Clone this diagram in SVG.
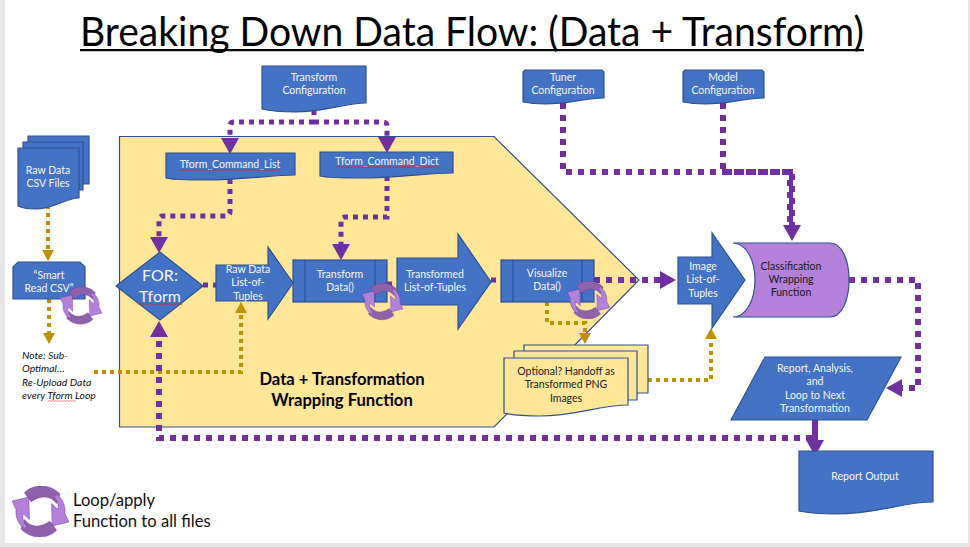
<svg xmlns="http://www.w3.org/2000/svg" xmlns:xlink="http://www.w3.org/1999/xlink" width="970" height="547" viewBox="0 0 970 547">
<style>
text{font-family:Lato,"Open Sans","Liberation Sans",sans-serif}
.b{fill:#4472c4;stroke:#2f528f;stroke-width:1.2}
.y{fill:#ffe699;stroke:#2f528f;stroke-width:1.2}
.p{fill:#b381d9;stroke:#2f528f;stroke-width:1.2}
.l{fill:none;stroke:#2f528f;stroke-width:1.2}
.t{font-size:10.5px;fill:#f4f6fc;text-anchor:middle}
.d{font-size:10.5px;fill:#1a1a22;text-anchor:middle}
.n{font-size:10.4px;font-style:italic;fill:#111}
.cp{fill:none;stroke:#7030a0;stroke-width:5;stroke-dasharray:5 5}
.cpb{fill:none;stroke:#7030a0;stroke-width:6;stroke-dasharray:6 6}
.cg{fill:none;stroke:#bf9000;stroke-width:4;stroke-dasharray:4 4}
.ap{marker-end:url(#ah)}
.ag{marker-end:url(#ag)}
</style>
<defs>
<marker id="ah" markerUnits="userSpaceOnUse" markerWidth="18" markerHeight="18" refX="0" refY="9" orient="auto"><path d="M0 0L16 9L0 18Z" fill="#7030a0"/></marker>
<marker id="ag" markerUnits="userSpaceOnUse" markerWidth="12" markerHeight="12" refX="0" refY="6" orient="auto"><path d="M0 0L11 6L0 12Z" fill="#bf9000"/></marker>
<pattern id="sq" patternUnits="userSpaceOnUse" width="3" height="2"><path d="M0 1.5L1.5 .5L3 1.5" fill="none" stroke="#d9232e" stroke-width=".9"/></pattern>
<pattern id="sqs" patternUnits="userSpaceOnUse" width="3" height="2"><path d="M0 1.5L1.5 .5L3 1.5" fill="none" stroke="#e8707a" stroke-width=".9"/></pattern>
<symbol id="loop" viewBox="35 48 170 152">
<g id="half" stroke="#7030a0" stroke-width="1.5">
<path d="M72 68C100 40 150 42 178 72L168 100C150 75 120 75 92 95Z" fill="#8e62ab"/>
<path d="M168 72C185 85 195 105 193 130L205 155L155 167L153 100L172 118C174 105 172 90 160 80Z" fill="#b381d9"/>
</g>
<use xlink:href="#half" href="#half" transform="rotate(180 120 124)"/>
</symbol>
</defs>
<rect width="970" height="547" fill="#fff"/>
<path d="M0 0H5V543H968V0H970V547H0Z" fill="#e6e6e6"/>

<text x="472" y="46" font-size="40" text-anchor="middle" textLength="784" lengthAdjust="spacingAndGlyphs" fill="#000">Breaking Down Data Flow: (Data + Transform)</text>
<rect x="80" y="49" width="784" height="2.2" fill="#000"/>

<g id="wrapper">
<path class="y" d="M119.5 136.5H494L639 280L494 427H119.5Z"/>
<text x="342" y="385" font-size="16.6" font-weight="700" text-anchor="middle" fill="#000">Data + Transformation</text>
<text x="342" y="406" font-size="16.6" font-weight="700" text-anchor="middle" fill="#000">Wrapping Function</text>
</g>

<g id="connectors">
<path class="cp" d="M314 110V122"/>
<path class="cp ap" d="M314 122H234Q230 122 230 126V138"/>
<path class="cp ap" d="M314 122H383Q387 122 387 126V137"/>
<path class="cp ap" d="M230 179V212Q230 216 226 216H163Q159 216 159 220V237"/>
<path class="cp ap" d="M387 176V217H345Q341 217 341 221V244"/>
<path class="cg ag" d="M48 205V250"/>
<path class="cg ag" d="M49 299V333"/>
<path class="cg ag" d="M94 372H241V313"/>
<path class="cp" d="M203 285H216"/>
<path class="cp" d="M387 284H397"/>
<path class="cp" d="M491 280H501"/>
<path class="cpb ap" d="M594 280H660"/>
<path class="cg ag" d="M547 302V323H585V333"/>
<path class="cg ag" d="M648 380H711V339"/>
<path class="cpb ap" d="M563 103V172H792V225"/>
<path class="cpb" d="M723 103V172H790V225"/>
<path class="cpb ap" d="M849 280H918V388H902"/>
<path class="cpb ap" d="M812 438H159V337"/>
<path fill="none" stroke="#7030a0" stroke-width="6" class="ap" d="M815 420V440"/>
</g>

<g id="n-transform-config">
<path class="b" d="M262 66H366V103C345 103 325 112 295 112C280 112 270 111 262 109Z"/>
<text class="t" x="314" y="81">Transform</text><text class="t" x="314" y="94">Configuration</text>
</g>
<g id="n-tuner-config">
<path class="b" d="M525 70H602L604 72V98C585 98 570 104 545 104C535 104 528 103 523 102V72Z"/>
<text class="t" x="563" y="81">Tuner</text><text class="t" x="563" y="94">Configuration</text>
</g>
<g id="n-model-config">
<path class="b" d="M685 70H762L764 72V98C745 98 730 104 705 104C695 104 688 103 683 102V72Z"/>
<text class="t" x="723" y="81">Model</text><text class="t" x="723" y="94">Configuration</text>
</g>
<g id="n-command-list">
<path class="b" d="M166 153H295V175C270 175 245 180 205 180C185 180 175 180 166 178Z"/>
<text class="t" x="230" y="168">Tform_Command_List</text>
<rect x="180" y="169" width="100" height="2" fill="url(#sq)"/>
</g>
<g id="n-command-dict">
<path class="b" d="M320 152H453V173C425 173 400 178 360 178C340 178 330 178 320 176Z"/>
<text class="t" x="387" y="165">Tform_Command_Dict</text>
<rect x="335" y="166" width="104" height="2" fill="url(#sq)"/>
</g>
<g id="n-raw-csv">
<path class="b" d="M28 136H89V184H28Z"/>
<path class="b" d="M23 142H83V190H23Z"/>
<path class="b" d="M18 148H79V198C65 198 55 209 35 209C27 209 22 208 18 206Z"/>
<text class="t" x="48" y="174">Raw Data</text><text class="t" x="48" y="187">CSV Files</text>
</g>
<g id="n-smart-read">
<path class="b" d="M18 262H80L85 267V299H13V267Z"/>
<text class="t" x="49" y="279">“Smart</text><text class="t" x="49" y="292">Read CSV”</text>
</g>
<g id="n-note">
<text class="n" x="22" y="359">Note: Sub-</text>
<text class="n" x="22" y="372">Optimal…</text>
<text class="n" x="22" y="386">Re-Upload Data</text>
<text class="n" x="22" y="399">every Tform Loop</text>
<rect x="48" y="400" width="28" height="2" fill="url(#sqs)"/>
</g>
<g id="n-for">
<path class="b" d="M116 286L160 252L203 286L160 320Z"/>
<text x="160" y="281" font-size="16" text-anchor="middle" fill="#f4f6fc">FOR:</text>
<text x="160" y="302" font-size="16" text-anchor="middle" fill="#f4f6fc">Tform</text>
<rect x="138" y="303" width="44" height="2" fill="url(#sq)"/>
</g>
<g id="n-raw-tuples">
<path class="b" d="M216 265H268V247L293 283L268 319V301H216Z"/>
<text class="t" x="248" y="273">Raw Data</text><text class="t" x="248" y="286">List-of-</text><text class="t" x="248" y="300">Tuples</text>
</g>
<g id="n-transform-data">
<rect class="b" x="293" y="260" width="94" height="42"/><path class="l" d="M305 260V302M375 260V302"/>
<text class="t" x="340" y="278">Transform</text><text class="t" x="340" y="291">Data()</text>
</g>
<g id="n-transformed-tuples">
<path class="b" d="M397 258H458V234L491 282L458 329V305H397Z"/>
<text class="t" x="435" y="278">Transformed</text><text class="t" x="435" y="291">List-of-Tuples</text>
</g>
<g id="n-visualize">
<rect class="b" x="501" y="260" width="93" height="42"/><path class="l" d="M513 260V302M582 260V302"/>
<text class="t" x="547" y="277">Visualize</text><text class="t" x="547" y="290">Data()</text>
</g>
<g id="n-handoff">
<path class="y" d="M524 345H648V393H524Z"/>
<path class="y" d="M514 351H637V400H514Z"/>
<path class="y" d="M504 358H628V405C600 405 575 416 540 416C525 416 512 415 504 413Z"/>
<text class="d" x="566" y="375">Optional? Handoff as</text><text class="d" x="566" y="388">Transformed PNG</text><text class="d" x="566" y="402">Images</text>
</g>
<g id="n-image-tuples">
<path class="b" d="M678 257H712V233L745 280L712 328V304H678Z"/>
<text class="t" x="703" y="270">Image</text><text class="t" x="703" y="283">List-of-</text><text class="t" x="703" y="297">Tuples</text>
</g>
<g id="n-classification">
<path class="p" d="M733 243H830C842 243 849 260 849 280C849 300 842 317 830 317H733C746 317 755 300 755 280C755 260 746 243 733 243Z"/>
<text class="d" x="791" y="270">Classification</text><text class="d" x="791" y="283">Wrapping</text><text class="d" x="791" y="296">Function</text>
</g>
<g id="n-report">
<path class="b" d="M765 357H901L867 420H731Z"/>
<text class="t" x="815" y="372">Report, Analysis,</text><text class="t" x="815" y="385">and</text><text class="t" x="815" y="399">Loop to Next</text><text class="t" x="815" y="412">Transformation</text>
</g>
<g id="n-report-output">
<path class="b" d="M799 451H933V502C900 502 880 514 835 514C820 514 808 513 799 511Z"/>
<text class="t" x="865" y="480">Report Output</text>
</g>
<g id="loops">
<use xlink:href="#loop" href="#loop" x="60" y="286" width="42" height="39"/>
<use xlink:href="#loop" href="#loop" x="362" y="282" width="41" height="39"/>
<use xlink:href="#loop" href="#loop" x="567" y="281" width="43" height="38"/>
</g>
<g id="legend">
<use xlink:href="#loop" href="#loop" x="12" y="486" width="57" height="51"/>
<text x="73" y="506" font-size="16.6" fill="#111">Loop/apply</text>
<text x="73" y="527" font-size="16.6" fill="#111">Function to all files</text>
</g>
</svg>
